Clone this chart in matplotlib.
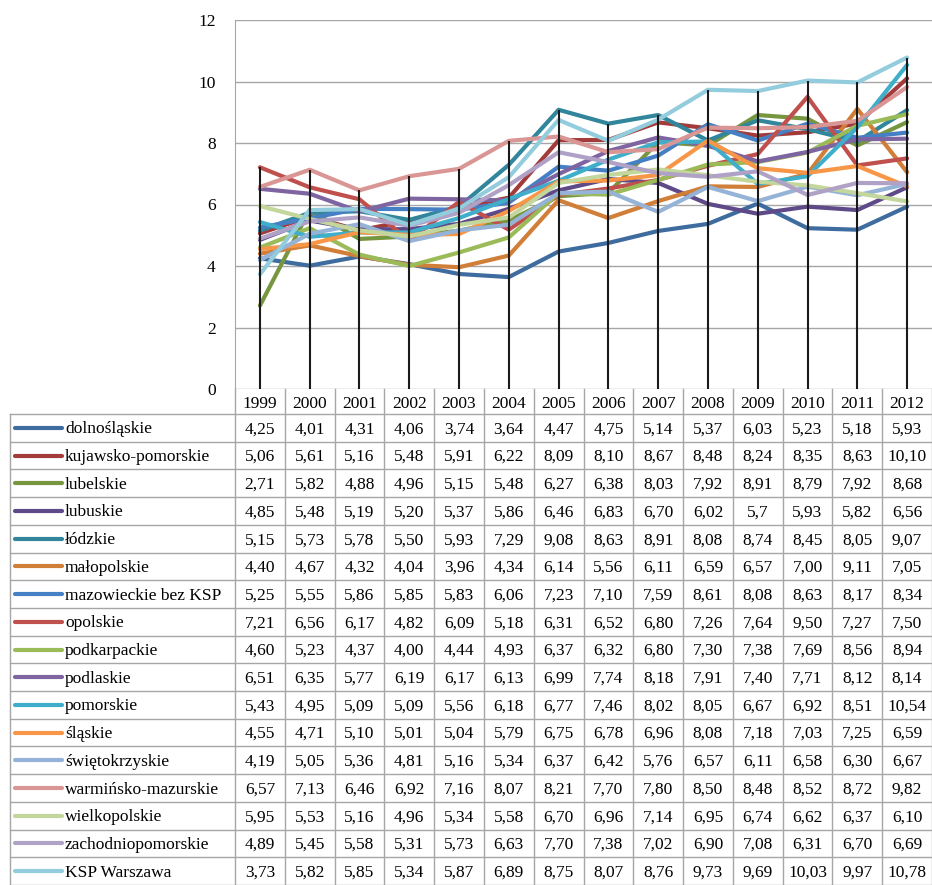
import matplotlib
matplotlib.use("Agg")
import matplotlib.pyplot as plt
import numpy as np

years = ["1999", "2000", "2001", "2002", "2003", "2004", "2005", "2006",
         "2007", "2008", "2009", "2010", "2011", "2012"]

regions = ["dolnośląskie", "kujawsko-pomorskie", "lubelskie", "lubuskie", "łódzkie",
           "małopolskie", "mazowieckie bez KSP", "opolskie", "podkarpackie", "podlaskie",
           "pomorskie", "śląskie", "świętokrzyskie", "warmińsko-mazurskie",
           "wielkopolskie", "zachodniopomorskie", "KSP Warszawa"]

dolnoslaskie = [4.25, 4.01, 4.31, 4.06, 3.74, 3.64, 4.47, 4.75, 5.14, 5.37, 6.03, 5.23, 5.18, 5.93]
kujawsko = [5.06, 5.61, 5.16, 5.48, 5.91, 6.22, 8.09, 8.10, 8.67, 8.48, 8.24, 8.35, 8.63, 10.10]
lubelskie = [2.71, 5.82, 4.88, 4.96, 5.15, 5.48, 6.27, 6.38, 8.03, 7.92, 8.91, 8.79, 7.92, 8.68]
lubuskie = [4.85, 5.48, 5.19, 5.20, 5.37, 5.86, 6.46, 6.83, 6.70, 6.02, 5.7, 5.93, 5.82, 6.56]
lodzkie = [5.15, 5.73, 5.78, 5.50, 5.93, 7.29, 9.08, 8.63, 8.91, 8.08, 8.74, 8.45, 8.05, 9.07]
malopolskie = [4.40, 4.67, 4.32, 4.04, 3.96, 4.34, 6.14, 5.56, 6.11, 6.59, 6.57, 7.00, 9.11, 7.05]
mazowieckie = [5.25, 5.55, 5.86, 5.85, 5.83, 6.06, 7.23, 7.10, 7.59, 8.61, 8.08, 8.63, 8.17, 8.34]
opolskie = [7.21, 6.56, 6.17, 4.82, 6.09, 5.18, 6.31, 6.52, 6.80, 7.26, 7.64, 9.50, 7.27, 7.50]
podkarpackie = [4.60, 5.23, 4.37, 4.00, 4.44, 4.93, 6.37, 6.32, 6.80, 7.30, 7.38, 7.69, 8.56, 8.94]
podlaskie = [6.51, 6.35, 5.77, 6.19, 6.17, 6.13, 6.99, 7.74, 8.18, 7.91, 7.40, 7.71, 8.12, 8.14]
pomorskie = [5.43, 4.95, 5.09, 5.09, 5.56, 6.18, 6.77, 7.46, 8.02, 8.05, 6.67, 6.92, 8.51, 10.54]
slaskie = [4.55, 4.71, 5.10, 5.01, 5.04, 5.79, 6.75, 6.78, 6.96, 8.08, 7.18, 7.03, 7.25, 6.59]
swietokrzyskie = [4.19, 5.05, 5.36, 4.81, 5.16, 5.34, 6.37, 6.42, 5.76, 6.57, 6.11, 6.58, 6.30, 6.67]
warminsko = [6.57, 7.13, 6.46, 6.92, 7.16, 8.07, 8.21, 7.70, 7.80, 8.50, 8.48, 8.52, 8.72, 9.82]
wielkopolskie = [5.95, 5.53, 5.16, 4.96, 5.34, 5.58, 6.70, 6.96, 7.14, 6.95, 6.74, 6.62, 6.37, 6.10]
zachodniopomorskie = [4.89, 5.45, 5.58, 5.31, 5.73, 6.63, 7.70, 7.38, 7.02, 6.90, 7.08, 6.31, 6.70, 6.69]
ksp_warszawa = [3.73, 5.82, 5.85, 5.34, 5.87, 6.89, 8.75, 8.07, 8.76, 9.73, 9.69, 10.03, 9.97, 10.78]

series = [dolnoslaskie, kujawsko, lubelskie, lubuskie, lodzkie, malopolskie, mazowieckie,
          opolskie, podkarpackie, podlaskie, pomorskie, slaskie, swietokrzyskie, warminsko,
          wielkopolskie, zachodniopomorskie, ksp_warszawa]

colors = ["#3F6C9F", "#A33B3A", "#779640", "#5E4A89", "#31869B", "#D07E38", "#4680C4",
          "#C0504D", "#9BBB59", "#7F64A2", "#3FAECB", "#F79646", "#95B3D7", "#D99694",
          "#C3D69B", "#B0A1C6", "#93CDDD"]

FONT = "Liberation Serif"
FS = 12.5
W, H = 932, 885
fig = plt.figure(figsize=(W / 100, H / 100), dpi=100)

x0, x1 = 235, 932
ytop, y0 = 20, 389
ax = fig.add_axes([x0 / W, 1 - y0 / H, (x1 - x0) / W, (y0 - ytop) / H])
n = len(years)
x = np.arange(n)
ax.set_xlim(-0.5, n - 0.5)
ax.set_ylim(0, 12)
ax.set_yticks([0, 2, 4, 6, 8, 10, 12])
ax.set_yticklabels([str(v) for v in [0, 2, 4, 6, 8, 10, 12]], fontfamily=FONT, fontsize=FS)
ax.tick_params(axis="y", length=0, pad=14)
ax.set_xticks([])
for s in ["top", "right", "bottom"]:
    ax.spines[s].set_visible(False)
ax.spines["left"].set_color("#A6A6A6")
ax.grid(axis="y", color="#A6A6A6", lw=1.0)
ax.set_axisbelow(True)

for vals, c in zip(series, colors):
    ax.plot(x, vals, color=c, lw=3.0, solid_capstyle="round", solid_joinstyle="round", zorder=3)

data = np.array(series)
ax.vlines(x, 0, data.max(axis=0), color="#1a1a1a", lw=1.5, zorder=5)

# Table
tab = fig.add_axes([x0 / W, 0, (x1 - x0) / W, (H - y0) / H])
tab.set_xlim(-0.5, n - 0.5)
hdr = 25
rowh = (H - y0 - hdr) / len(regions)
tab.set_ylim(H, y0)  # pixel rows, top-down
tab.axis("off")
px = (x1 - x0) / n  # pixels per unit
lab_left = -0.5 - (x0 - 10) / px
grid_c = "#A6A6A6"
kw = dict(color=grid_c, lw=1.0, clip_on=False)
dy = 1.5

# header
for i, yr in enumerate(years):
    tab.text(i, y0 + hdr / 2 + 2.5, yr, ha="center", va="center", fontfamily=FONT, fontsize=FS)
for i in range(n + 1):
    tab.plot([i - 0.5, i - 0.5], [y0, H], **kw)
tab.plot([lab_left, lab_left], [y0 + hdr, H], **kw)
tab.plot([lab_left, n - 0.5], [y0 + hdr, y0 + hdr], **kw)
for r in range(len(regions)):
    yb = y0 + hdr + (r + 1) * rowh
    tab.plot([lab_left, n - 0.5], [yb, yb], **kw)

for r, (name, vals, c) in enumerate(zip(regions, series, colors)):
    yc = y0 + hdr + (r + 0.5) * rowh
    tab.plot([lab_left + 5 / px, lab_left + 52 / px], [yc, yc], color=c, lw=3.0,
             solid_capstyle="round", clip_on=False)
    tab.text(lab_left + 55 / px, yc + dy, name, ha="left", va="center", fontfamily=FONT, fontsize=FS)
    for i, v in enumerate(vals):
        s = ("%.2f" % v).replace(".", ",")
        if name == "lubuskie" and years[i] == "2009":
            s = "5,7"
        tab.text(i, yc + dy, s, ha="center", va="center", fontfamily=FONT, fontsize=FS)

fig.savefig("out.png", dpi=100)
